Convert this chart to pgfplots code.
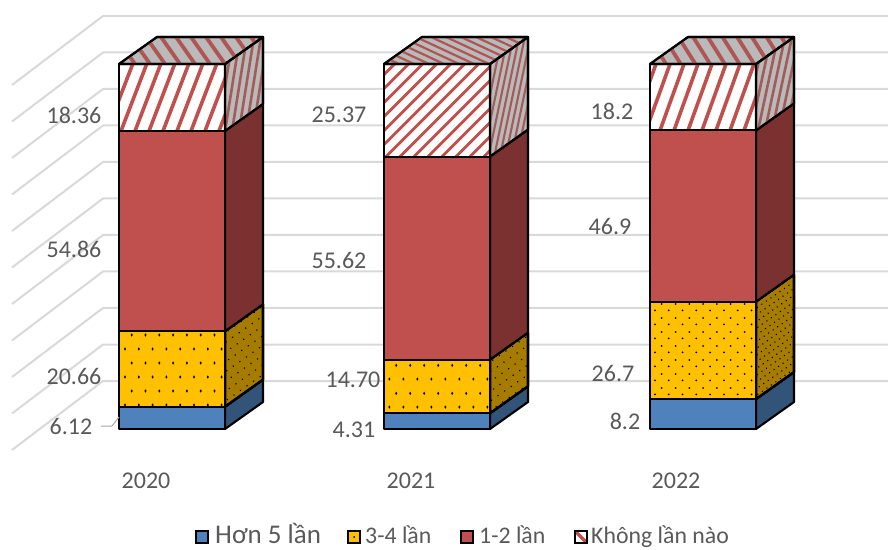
\documentclass[border=0pt]{standalone}
\usepackage{pgfplots}
\pgfplotsset{compat=1.18}
\usepackage{fontspec}
\setmainfont{Carlito}
\usetikzlibrary{patterns,patterns.meta}

% staggered dot lattices for the yellow front faces
\pgfdeclarepatternformonly{dotsA}{\pgfqpoint{-0.5pt}{0pt}}{\pgfqpoint{13.3pt}{28pt}}{\pgfqpoint{13.8pt}{28pt}}{%
  \pgfpathellipse{\pgfqpoint{7.5pt}{18pt}}{\pgfqpoint{1.05pt}{0pt}}{\pgfqpoint{0pt}{1.7pt}}%
  \pgfpathellipse{\pgfqpoint{0.8pt}{4pt}}{\pgfqpoint{1.05pt}{0pt}}{\pgfqpoint{0pt}{1.7pt}}%
  \pgfusepath{fill}}
\pgfdeclarepatternformonly{dotsB}{\pgfqpoint{0pt}{0pt}}{\pgfqpoint{13.8pt}{28pt}}{\pgfqpoint{13.8pt}{28pt}}{%
  \pgfpathellipse{\pgfqpoint{10.3pt}{17pt}}{\pgfqpoint{1.05pt}{0pt}}{\pgfqpoint{0pt}{1.7pt}}%
  \pgfpathellipse{\pgfqpoint{3.4pt}{3pt}}{\pgfqpoint{1.05pt}{0pt}}{\pgfqpoint{0pt}{1.7pt}}%
  \pgfusepath{fill}}
\pgfdeclarepatternformonly{dotsC}{\pgfqpoint{0.5pt}{-1pt}}{\pgfqpoint{14.3pt}{13pt}}{\pgfqpoint{13.8pt}{14pt}}{%
  \pgfpathcircle{\pgfqpoint{13.1pt}{7pt}}{1pt}%
  \pgfpathcircle{\pgfqpoint{6.3pt}{0.6pt}}{1pt}%
  \pgfusepath{fill}}

\definecolor{txt}{HTML}{595959}
\definecolor{gridc}{HTML}{D9D9D9}
\definecolor{cblue}{HTML}{4F81BD}
\definecolor{cblued}{HTML}{325478}
\definecolor{cyel}{HTML}{FFC000}
\definecolor{cyeld}{HTML}{A67C00}
\definecolor{cred}{HTML}{C0504D}
\definecolor{credd}{HTML}{7B3130}
\definecolor{cgrey}{HTML}{BABABA}
\definecolor{stripeT}{HTML}{AF5553}
\definecolor{stripeS}{HTML}{A25C5A}

\tikzset{
  edge/.style={draw=black,line width=2.1pt,line join=round},
  blue f/.style={edge,fill=cblue},
  blue s/.style={edge,fill=cblued},
  red f/.style={edge,fill=cred},
  red s/.style={edge,fill=credd},
  yel fA/.style={edge,preaction={fill=cyel},preaction={pattern=dotsA,pattern color=black}},
  yel fB/.style={edge,preaction={fill=cyel},preaction={pattern=dotsB,pattern color=black}},
  yel fC/.style={edge,preaction={fill=cyel},preaction={pattern=dotsC,pattern color=black}},
  yel s/.style={edge,preaction={fill=cyeld},preaction={pattern={Dots[radius=0.85pt,distance=8pt,angle=35]},pattern color=black}},
  yel sd/.style={edge,preaction={fill=cyeld},preaction={pattern={Dots[radius=0.8pt,distance=5.5pt,angle=35]},pattern color=black}},
  hatch f/.style={edge,fill=white},
  hatch s/.style={edge,fill=cgrey},
}

% one stacked block: left x, lower value, upper value, front style, side style
\newcommand{\block}[5]{%
  \pgfmathsetmacro\xr{#1+106}%
  \pgfmathsetmacro\xd{#1+144}%
  \pgfmathsetmacro\lod{#2+7.4}%
  \pgfmathsetmacro\hid{#3+7.4}%
  \edef\temp{%
    \noexpand\addplot[#5] coordinates {(\xr,#2)(\xd,\lod)(\xd,\hid)(\xr,#3)} --cycle;
    \noexpand\addplot[#4] coordinates {(#1,#2)(\xr,#2)(\xr,#3)(#1,#3)} --cycle;
  }\temp}
% lid of a column at its total value
\newcommand{\lid}[2]{%
  \pgfmathsetmacro\xr{#1+106}%
  \pgfmathsetmacro\xb{#1+38}%
  \pgfmathsetmacro\xd{#1+144}%
  \pgfmathsetmacro\hid{#2+7.4}%
  \edef\temp{\noexpand\addplot[hatch s] coordinates {(#1,#2)(\xr,#2)(\xd,\hid)(\xb,\hid)} --cycle;}\temp}

% diagonal stripes clipped to a face, then its outline again:
% polygon, colour, width, first x, second x, last x, low y, high y, x run of a stripe
\newcommand{\stripes}[9]{%
  \pgfplotsextra{%
    \begin{scope}
      \clip #1;
      \foreach \s in {#4,#5,...,#6}{%
        \pgfmathsetmacro\sb{\s+#9}%
        \draw[#2,line width=#3] (axis cs:\s,#7) -- (axis cs:\sb,#8);
      }
    \end{scope}
    \draw[edge] #1;
  }}

\newcommand{\lbl}[3]{\node[text=txt,font=\fontsize{24}{28}\selectfont,inner sep=0pt] at (#1,{549-#2}) {#3};}

\begin{document}
\begin{tikzpicture}[x=1pt,y=1pt]
\useasboundingbox (0,0) rectangle (888,549);
\begin{axis}[
  at={(0,0)},anchor=south west,
  x=1pt,y=3.65pt,
  xmin=0,xmax=888,ymin=-32.877,ymax=117.534,
  axis lines=none,clip=false,
]
% back wall and side wall gridlines, every 10 units
\pgfplotsinvokeforeach{13.15,23.15,33.15,43.15,53.15,63.15,73.15,83.15,93.15,103.15,113.15}{
  \pgfmathsetmacro\yd{#1-18.9}
  \edef\temp{\noexpand\addplot[gridc,line width=2pt] coordinates {(12,\yd)(103,#1)(888,#1)};}\temp
}
% 2020: 6.12, 20.66, 54.86, 18.36
\block{119}{0}{6.12}{blue f}{blue s}
\block{119}{6.12}{26.78}{yel fA}{yel s}
\block{119}{26.78}{81.64}{red f}{red s}
\block{119}{81.64}{100}{hatch f}{hatch s}
\lid{119}{100}
\stripes{(axis cs:119,81.64)--(axis cs:225,81.64)--(axis cs:225,100)--(axis cs:119,100)--cycle}{cred}{3.6pt}{93}{107}{233}{81.64}{100}{25.7}
\stripes{(axis cs:225,81.64)--(axis cs:263,89.04)--(axis cs:263,107.4)--(axis cs:225,100)--cycle}{stripeS}{2.6pt}{197}{204}{268}{81.64}{107.4}{15}
\stripes{(axis cs:119,100)--(axis cs:225,100)--(axis cs:263,107.4)--(axis cs:157,107.4)--cycle}{stripeT}{3.8pt}{135}{150}{285}{100}{107.4}{-19}
% 2021: 4.31, 14.70, 55.62, 25.37
\block{384}{0}{4.31}{blue f}{blue s}
\block{384}{4.31}{19.01}{yel fB}{yel s}
\block{384}{19.01}{74.63}{red f}{red s}
\block{384}{74.63}{100}{hatch f}{hatch s}
\lid{384}{100}
\stripes{(axis cs:384,74.63)--(axis cs:490,74.63)--(axis cs:490,100)--(axis cs:384,100)--cycle}{cred}{2.8pt}{288}{302}{498}{74.63}{100}{92.6}
\stripes{(axis cs:490,74.63)--(axis cs:528,82.03)--(axis cs:528,107.4)--(axis cs:490,100)--cycle}{stripeS}{2.1pt}{460}{465.7}{534}{74.63}{107.4}{25}
\stripes{(axis cs:384,100)--(axis cs:490,100)--(axis cs:528,107.4)--(axis cs:422,107.4)--cycle}{stripeT}{2.2pt}{384}{399}{594}{100}{107.4}{-58}
% 2022: 8.2, 26.7, 46.9, 18.2
\block{650}{0}{8.2}{blue f}{blue s}
\block{650}{8.2}{34.9}{yel fC}{yel sd}
\block{650}{34.9}{81.8}{red f}{red s}
\block{650}{81.8}{100}{hatch f}{hatch s}
\lid{650}{100}
\stripes{(axis cs:650,81.8)--(axis cs:756,81.8)--(axis cs:756,100)--(axis cs:650,100)--cycle}{cred}{3.6pt}{618}{632}{772}{81.8}{100}{24}
\stripes{(axis cs:756,81.8)--(axis cs:794,89.2)--(axis cs:794,107.4)--(axis cs:756,100)--cycle}{stripeS}{2.6pt}{730}{737}{800}{81.8}{107.4}{20}
\stripes{(axis cs:650,100)--(axis cs:756,100)--(axis cs:794,107.4)--(axis cs:688,107.4)--cycle}{stripeT}{3.8pt}{666}{680.7}{820}{100}{107.4}{-17}
\end{axis}

% value labels
\lbl{74}{115}{18.36}
\lbl{74}{249}{54.86}
\lbl{74}{376}{20.66}
\lbl{71}{426}{6.12}
\draw[color=black!35,line width=1pt] (101,{549-426}) -- (112,{549-426}) -- (119,{549-417});
\lbl{339}{115}{25.37}
\lbl{339}{260}{55.62}
\lbl{353}{380}{14.70}
\lbl{354}{430}{4.31}
\lbl{612}{111}{18.2}
\lbl{610}{226}{46.9}
\lbl{613}{373}{26.7}
\lbl{625}{421}{8.2}
% category labels
\lbl{146}{481}{2020}
\lbl{411}{481}{2021}
\lbl{676}{481}{2022}

% legend
\tikzset{key/.style={line width=1.9pt,draw=black},
  keytext/.style={anchor=base west,text=txt,inner sep=0pt}}
\draw[key,fill=cblue] (196,{549-543}) rectangle (208,{549-531});
\node[keytext,font=\fontsize{27}{30}\selectfont] at (215,6) {Hơn 5 lần};
\draw[key,fill=cyel] (348,{549-543}) rectangle (360,{549-531});
\fill[black] (354,{549-537}) circle (1pt);
\node[keytext,font=\fontsize{23.8}{28}\selectfont] at (365,6) {3-4 lần};
\draw[key,fill=cred] (461,{549-543}) rectangle (473,{549-531});
\node[keytext,font=\fontsize{23.8}{28}\selectfont] at (479,6) {1-2 lần};
\draw[key,fill=white] (575,{549-543}) rectangle (587,{549-531});
\begin{scope}
\clip (575,{549-543}) rectangle (587,{549-531});
\draw[cred,line width=3.5pt] (575,{549-531}) -- (587,{549-543});
\end{scope}
\draw[key] (575,{549-543}) rectangle (587,{549-531});
\node[keytext,font=\fontsize{23.8}{28}\selectfont] at (591,6) {Không lần nào};
\end{tikzpicture}
\end{document}
